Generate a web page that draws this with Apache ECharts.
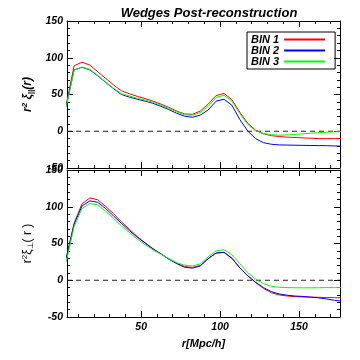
<!DOCTYPE html>
<html>
<head>
<meta charset="utf-8">
<script src="https://cdn.jsdelivr.net/npm/echarts@6/dist/echarts.min.js"></script>
<style>html,body{margin:0;padding:0;background:#fff}#c{width:360px;height:360px}</style>
</head>
<body>
<div id="c"></div>
<script>
// ---- data ----
const rValues = [2.5,7.5,12.5,17.5,22.5,27.5,32.5,37.5,42.5,47.5,52.5,57.5,62.5,67.5,72.5,77.5,82.5,87.5,92.5,97.5,102.5,107.5,112.5,117.5,122.5,127.5,132.5,137.5,142.5,147.5,152.5,157.5,162.5,167.5,172.5,177.5];
const seriesNames = ['BIN 1','BIN 2','BIN 3'];
const seriesColors = ['#ff0000','#0000ff','#00ff00'];
// top panel: r^2 xi_parallel
const parBin1 = [36,89,94,90,81,72,63,55,51,47.5,44.5,41,37,32.5,27.5,23.5,23,27.5,37,48.5,51.5,43,26,11,1.5,-3.5,-6,-7.2,-8,-8.5,-9,-9.5,-10,-10,-10,-10];
const parBin2 = [34,83.5,87,83.5,75.5,66.5,58,50,46.5,43.5,41,38,34,29.5,24.5,20.5,19,22,29,41,43.5,35.5,16,0.5,-10,-15.5,-17.7,-18.6,-18.8,-19,-19.2,-19.4,-19.5,-19.6,-20,-20.3];
const parBin3 = [33,83,87.5,84,76,67,58.5,51,48,45,42.5,39.5,35.5,31,26.5,22.5,21.8,25.5,34,46,49,41,24,9.5,0.5,-3,-4.8,-5.3,-5,-4.3,-3.5,-2.7,-2,-1.3,-0.8,-0.5];
// bottom panel: r^2 xi_perp
const perBin1 = [30,77.5,104,112,109.5,100.5,90.5,79.5,69.5,59.5,51,43,36,29,23,18.5,17.5,20,29.5,37,38,30,17,6,-3,-11,-17,-20,-21.4,-22.3,-22.7,-23,-23.2,-23.5,-23.7,-24];
const perBin2 = [30,76,101,108,106,97.5,87.5,77.5,67.5,58.5,50.5,42.5,35.8,28.8,22.7,17.7,16.5,19.5,29.5,37,38,30,17,6.3,-2.7,-10,-15.5,-18.7,-20.4,-21.5,-22,-23,-24,-25.5,-27.3,-28.5];
const perBin3 = [25,73,97.5,104.5,102.5,94,84,74,65,56,48.5,41.3,35.5,29.4,24,20.4,19.5,22.2,32,40,41.7,34.5,22.6,10.4,1.4,-4.6,-8.2,-9.5,-10,-10.2,-10.3,-10.3,-10.2,-10,-10,-10];
const xMajorTicks = [50,100,150];
const xMinorTicks = [10,20,30,40,60,70,80,90,110,120,130,140,160,170];
const zeroLine = [0,0];

const X_MIN = 3, X_MAX = 176, Y_MIN = -50, Y_MAX = 150;
const FONT = "'Liberation Sans', Arial, sans-serif";
const labelStyle = {color:'#000', fontFamily:FONT, fontWeight:'bold', fontStyle:'italic', fontSize:10.5};

function mkX(g, pos, major, labels) {
  const a = {
    gridIndex:g, type:'value', min:X_MIN, max:X_MAX, position:pos,
    splitLine:{show:false},
    axisLine:{show:major, onZero:false, lineStyle:{color:'#000', width:1}},
    axisTick:{show:true, inside:true, length: major?6:3, customValues: major?xMajorTicks:xMinorTicks, lineStyle:{color:'#000', width:1}},
    axisLabel:{show:labels, customValues:xMajorTicks, margin:5, ...labelStyle}
  };
  if (labels) {
    a.name = 'r[Mpc/h]';
    a.nameLocation = 'middle';
    a.nameGap = 21;
    a.nameTextStyle = {color:'#000', fontFamily:FONT, fontWeight:'bold', fontStyle:'italic', fontSize:11};
  }
  return a;
}
function mkY(g, pos, major, labels, name, bold) {
  const a = {
    gridIndex:g, type:'value', min:Y_MIN, max:Y_MAX, interval: major?50:10, position:pos,
    splitLine:{show:false},
    axisLine:{show:major, onZero:false, lineStyle:{color:'#000', width:1}},
    axisTick:{show:true, inside:true, length: major?6:3, lineStyle:{color:'#000', width:1}},
    axisLabel:{show:labels, margin:4, showMinLabel:true, showMaxLabel:true, ...labelStyle}
  };
  if (name) {
    a.name = name;
    a.nameLocation = 'middle';
    a.nameRotate = 90;
    a.nameGap = 19;
    const w = bold ? 'bold' : 'normal';
    const st = bold ? 'italic' : 'normal';
    a.nameTextStyle = {color:'#000', fontFamily:FONT, fontWeight:w, fontStyle:st, fontSize:12, lineHeight:14,
      rich:{
        sup:{fontSize:8, fontWeight:w, fontStyle:st, color:'#000', fontFamily:FONT, verticalAlign:'top', lineHeight:14},
        sub:{fontSize:8, fontWeight:w, fontStyle:st, color:'#000', fontFamily:FONT, verticalAlign:'bottom', lineHeight:14}
      }};
  }
  return a;
}

const xAxis = [
  mkX(0,'bottom',true,false), mkX(0,'bottom',false,false), mkX(0,'top',true,false), mkX(0,'top',false,false),
  mkX(1,'bottom',true,true), mkX(1,'bottom',false,false), mkX(1,'top',true,false), mkX(1,'top',false,false)
];
const yAxis = [
  mkY(0,'left',true,true,'r{sup|2} ξ{sub|||}(r)',true), mkY(0,'left',false,false), mkY(0,'right',true,false), mkY(0,'right',false,false),
  mkY(1,'left',true,true,'r{sup|2}ξ{sub|⊥}( r )',false), mkY(1,'left',false,false), mkY(1,'right',true,false), mkY(1,'right',false,false)
];

function pairs(vals){ return rValues.map((r,i)=>[r, vals[i]]); }
const panels = [[parBin1,parBin2,parBin3],[perBin1,perBin2,perBin3]];
const series = [];
panels.forEach((arrs, g) => {
  series.push({
    type:'line', xAxisIndex:g*4, yAxisIndex:g*4, silent:true, symbol:'none',
    data:[[X_MIN, zeroLine[0]],[X_MAX, zeroLine[1]]],
    lineStyle:{color:'#222', width:1, type:[5,4]}, z:1
  });
  arrs.forEach((vals, k) => {
    series.push({
      name:seriesNames[k], type:'line', xAxisIndex:g*4, yAxisIndex:g*4,
      symbol:'none', showSymbol:false, clip:true,
      data:pairs(vals), color:seriesColors[k],
      itemStyle:{color:seriesColors[k]},
      lineStyle:{color:seriesColors[k], width:1}, z:2+k
    });
  });
});

const chart = echarts.init(document.getElementById('c'), null, {renderer:'canvas'});
chart.setOption({
  animation:false,
  backgroundColor:'#fff',
  title:{text:'Wedges Post-reconstruction', left:204, textAlign:'center', top:2,
    textStyle:{color:'#000', fontFamily:FONT, fontWeight:'bold', fontStyle:'italic', fontSize:13}},
  legend:{data:seriesNames, orient:'vertical', left:247, top:32, align:'right',
    borderColor:'#000', borderWidth:1, padding:[2,9,2,4], itemGap:0, itemWidth:41, itemHeight:1,
    selectedMode:false,
    textStyle:{color:'#000', fontFamily:FONT, fontWeight:'bold', fontStyle:'italic', fontSize:11, lineHeight:11}},
  grid:[
    {left:67, top:21, width:273, height:147},
    {left:67, top:170, width:273, height:147}
  ],
  xAxis, yAxis, series
});
</script>
</body>
</html>
